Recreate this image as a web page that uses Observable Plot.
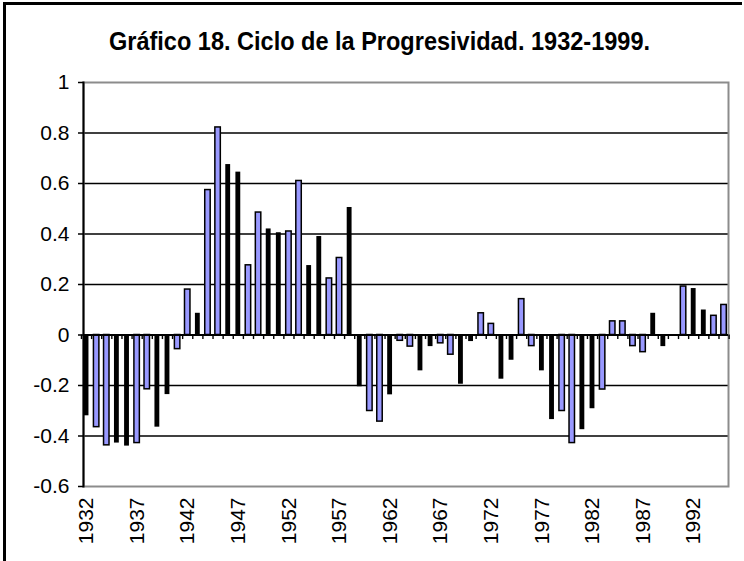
<!DOCTYPE html>
<html>
<head>
<meta charset="utf-8">
<script src="https://cdn.jsdelivr.net/npm/d3@7"></script>
<script src="https://cdn.jsdelivr.net/npm/@observablehq/plot@0.6"></script>
<style>
  body { margin: 0; background: #fff; }
  #wrap { position: relative; width: 744px; height: 561px; overflow: hidden; font-family: "Liberation Sans", Arial, sans-serif; background: #fff; }
  #frame { position: absolute; left: 3px; top: 2px; width: 739px; height: 600px; border-left: 3px solid #000; border-top: 3px solid #000; box-sizing: border-box; pointer-events: none; }
  #chart { position: absolute; left: 0; top: 0; }
  #title { position: absolute; left: 109px; top: 28px; white-space: nowrap; font-weight: bold; font-size: 26px; line-height: 26px; transform-origin: 0 0; color: #000; }
</style>
</head>
<body>
<div id="wrap">
  <div id="chart"></div>
  <div id="frame"></div>
  <span id="title">Gráfico 18. Ciclo de la Progresividad. 1932-1999.</span>
</div>
<script>
// Years (categories)
const years = [
  1932,1933,1934,1935,1936,1937,1938,1939,1940,1941,
  1942,1943,1944,1945,1946,1947,1948,1949,1950,1951,
  1952,1953,1954,1955,1956,1957,1958,1959,1960,1961,
  1962,1963,1964,1965,1966,1967,1968,1969,1970,1971,
  1972,1973,1974,1975,1976,1977,1978,1979,1980,1981,
  1982,1983,1984,1985,1986,1987,1988,1989,1990,1991,
  1992,1993,1994,1995
];
// Cycle value per year
const values = [
  -0.32,-0.365,-0.437,-0.428,-0.44,-0.428,-0.215,-0.365,-0.236,-0.056,
  0.18,0.086,0.574,0.822,0.675,0.645,0.276,0.485,0.42,0.405,
  0.41,0.61,0.275,0.39,0.224,0.305,0.505,-0.205,-0.301,-0.343,
  -0.237,-0.023,-0.046,-0.142,-0.046,-0.033,-0.078,-0.195,-0.026,0.086,
  0.044,-0.175,-0.1,0.142,-0.044,-0.142,-0.335,-0.301,-0.428,-0.375,
  -0.292,-0.216,0.054,0.054,-0.044,-0.068,0.086,-0.046,0,0.192,
  0.184,0.099,0.076,0.119
];
// Series group of each bar (A = light blue bars, B = black bars)
const groups = [
  "B","A","A","B","B","A","A","B","B","A",
  "A","B","A","A","B","B","A","A","B","B",
  "A","A","B","B","A","A","B","B","A","A",
  "B","A","A","B","B","A","A","B","B","A",
  "A","B","B","A","A","B","B","A","A","B",
  "B","A","A","A","A","A","B","B","B","A",
  "B","B","A","A"
];
// Axis ticks
const yTicks = [-0.6,-0.4,-0.2,0,0.2,0.4,0.6,0.8,1];
const gridLines = [-0.4,-0.2,0.2,0.4,0.6,0.8];
const xLabels = [1932,1937,1942,1947,1952,1957,1962,1967,1972,1977,1982,1987,1992];

const data = years.map((year, i) => ({year, value: values[i], group: groups[i]}));
const boundaries = years.map(y => y - 0.5).concat([years[years.length - 1] + 0.5]);

const chart = Plot.plot({
  width: 744,
  height: 561,
  marginTop: 82,
  marginBottom: 75,
  marginLeft: 83,
  marginRight: 16,
  style: { fontFamily: "'Liberation Sans', Arial, sans-serif", fontSize: "21px", color: "#000", background: "transparent", overflow: "visible" },
  x: { type: "linear", domain: [1931.7, 1995.44], label: null },
  y: { domain: [-0.6, 1], label: null },
  color: { domain: ["A", "B"], range: ["#9999ff", "#000000"] },
  marks: [
    Plot.ruleY(gridLines, { stroke: "#000", strokeWidth: 1.4 }),
    Plot.frame({ stroke: "#8c8c8c", strokeWidth: 2 }),
    Plot.rectY(data.filter(d => d.group === "A"), {
      x1: d => d.year - 0.27, x2: d => d.year + 0.27, y1: 0, y2: "value",
      fill: "group", stroke: "#000", strokeWidth: 1.5
    }),
    Plot.rectY(data.filter(d => d.group === "B"), {
      x1: d => d.year - 0.24, x2: d => d.year + 0.24, y1: 0, y2: "value",
      fill: "group"
    }),
    Plot.ruleY([0], { stroke: "#000", strokeWidth: 2 }),
    Plot.ruleX(boundaries, { x: d => d, y1: 0, y2: -0.018, stroke: "#000", strokeWidth: 1.4 }),
    Plot.frame({ anchor: "left", stroke: "#000", strokeWidth: 2 }),
    Plot.axisY({ ticks: yTicks, tickSize: 5, tickPadding: 9, fontSize: 21, tickFormat: d => String(d), strokeWidth: 1.5, label: null }),
    Plot.axisX({ ticks: xLabels, tickSize: 0, tickPadding: 11, tickRotate: -90, fontSize: 21, tickFormat: d => String(d), label: null })
  ]
});
document.getElementById("chart").appendChild(chart);

// Fit the title to the width it occupies in the reference (condensed Excel rendering)
const t = document.getElementById("title");
const w = t.getBoundingClientRect().width;
t.style.transform = `scaleX(${541 / w})`;
</script>
</body>
</html>
